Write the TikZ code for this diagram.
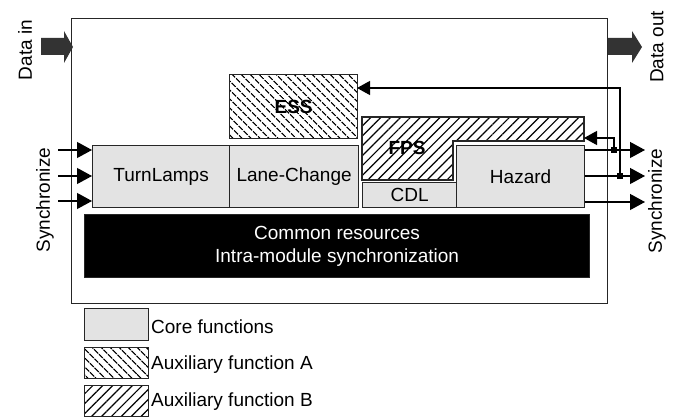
\documentclass[tikz,border=0pt]{standalone}
\usepackage{fontspec}
\setmainfont{Liberation Sans}
\usetikzlibrary{arrows.meta,patterns.meta}
\begin{document}
\begin{tikzpicture}[x=1pt,y=-1pt,
  every node/.style={font=\fontsize{19}{23}\selectfont},
  blk/.style={draw=black!85, line width=1.2pt, inner sep=0pt, anchor=north west},
  core/.style={blk, fill=black!11},
  auxa/.style={pattern={Lines[angle=-45,distance=6.5pt,line width=1.2pt]}},
  auxb/.style={pattern={Lines[angle=45,distance=7pt,line width=1.2pt]}},
  boldlabel/.style={font=\fontsize{19}{23}\selectfont\bfseries},
  vlabel/.style={rotate=90},
  sync/.style={line width=1.2pt, -{Triangle[length=15pt,width=16pt]}},
  fb/.style={line width=1.2pt, -{Triangle[length=13pt,width=14pt]}},
  jn/.style={fill=black, minimum size=6pt, inner sep=0pt},
  dataarrow/.style={fill=black!80}
]
\useasboundingbox (0,0) rectangle (678,419);

% module frame
\node[blk, minimum width=536pt, minimum height=285pt] (frame) at (71,18) {};

% data in / data out block arrows
\fill[dataarrow] (41,38) -- (64,38) -- (64,31) -- (73,47) -- (64,63) -- (64,55) -- (41,55) -- cycle;
\fill[dataarrow] (608,38) -- (632,38) -- (632,31) -- (642,47) -- (632,63) -- (632,55) -- (608,55) -- cycle;
\node[vlabel] (datain) at (25,50) {Data in};
\node[vlabel] (dataout) at (657,47) {Data out};

% auxiliary function A: ESS
\node[blk, auxa, minimum width=128pt, minimum height=64pt] (ess) at (229,74) {};
\node[boldlabel] (esslbl) at (ess.center) {ESS};

% auxiliary function B: FPS (L-shaped, wraps around Hazard)
\draw[auxb, draw=black!85, line width=1.2pt]
  (362,117) -- (584,117) -- (584,141) -- (453,141) -- (453,180) -- (362,180) -- cycle;
\node[boldlabel] (fps) at (407,148) {FPS};

% core functions
\node[core, minimum width=137pt, minimum height=62pt] (turn) at (92,145) {};
\node (turnlbl) at (turn.center) {TurnLamps};
\node[core, minimum width=129pt, minimum height=62pt] (lane) at (229,145) {};
\node (lanelbl) at (lane.center) {Lane-Change};
\node[core, minimum width=94pt, minimum height=25pt] (cdl) at (362,182) {};
\node (cdllbl) at (cdl.center) {CDL};
\node[core, minimum width=128pt, minimum height=62pt] (hazard) at (456,145) {};
\node (hazardlbl) at (hazard.center) {Hazard};

% common resources
\node[blk, fill=black, minimum width=505pt, minimum height=63pt] (common) at (84,214) {};
\node[text=white, align=center] (commonlbl) at (common.center)
  {Common resources\\Intra-module synchronization};

% synchronization inputs
\coordinate (sl1) at (58,150);
\coordinate (sl2) at (58,176);
\coordinate (sl3) at (58,201);
\foreach \s in {sl1,sl2,sl3}
  \draw[sync] (\s) -- (turn.west |- \s);
\node[vlabel] (syncin) at (45,200) {Synchronize};

% synchronization outputs
\coordinate (sr1) at (645,150);
\coordinate (sr2) at (645,176);
\coordinate (sr3) at (645,202);
\foreach \s in {sr1,sr2,sr3}
  \draw[sync] (hazard.east |- \s) -- (\s);
\node[vlabel] (syncout) at (657,201) {Synchronize};

% feedback taps
\node[jn] (j1) at (614,150) {};
\node[jn] (j2) at (620,176) {};
\coordinate (fpsin) at (584,138);
\coordinate (essin) at (357,88);
\draw[fb] (j1.center) |- (fpsin);
\draw[fb] (j2.center) |- (essin);

% legend
\node[core, minimum width=64pt, minimum height=32pt] (lgcore) at (84,308) {};
\node[blk, auxa, minimum width=64pt, minimum height=31pt] (lga) at (84,347) {};
\node[blk, auxb, minimum width=64pt, minimum height=31pt] (lgb) at (84,385) {};
\node[anchor=west, inner sep=0pt] (lgcoret) at (151,327) {Core functions};
\node[anchor=west, inner sep=0pt] (lgat) at (151,365) {Auxiliary function A};
\node[anchor=west, inner sep=0pt] (lgbt) at (151,402) {Auxiliary function B};
\end{tikzpicture}
\end{document}
